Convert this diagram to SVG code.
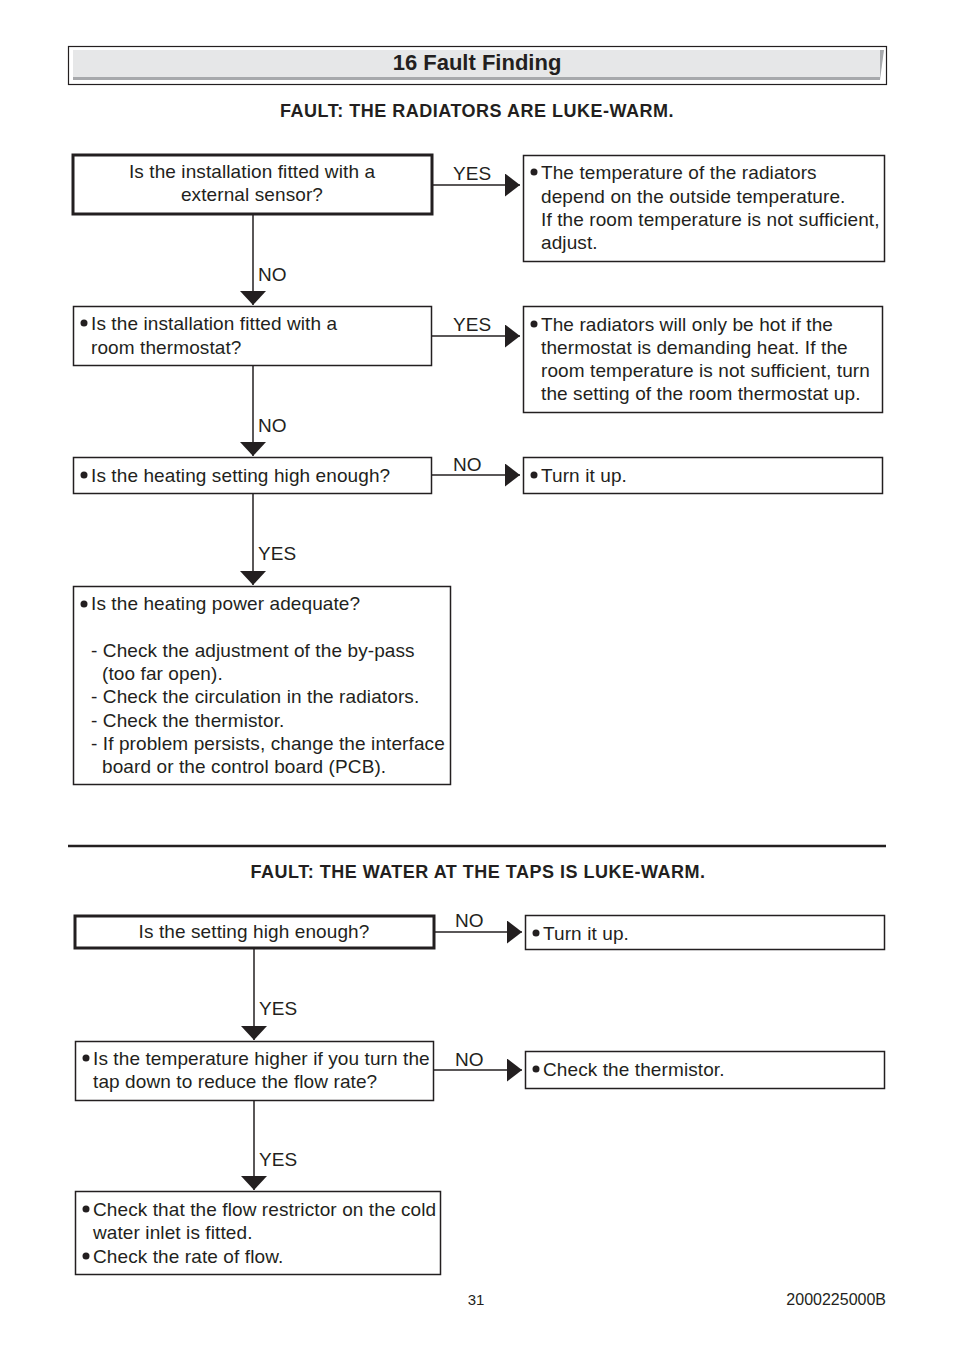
<svg xmlns="http://www.w3.org/2000/svg" width="954" height="1351" viewBox="0 0 954 1351">
<defs>
<marker id="ah" markerUnits="userSpaceOnUse" markerWidth="16" markerHeight="24" refX="15" refY="11.5" orient="auto"><path d="M0,0 L15,11.5 L0,23 z" fill="#231f20"/></marker>
<marker id="av" markerUnits="userSpaceOnUse" markerWidth="15" markerHeight="28" refX="14" refY="13" orient="auto"><path d="M0,0 L14,13 L0,26 z" fill="#231f20"/></marker>
</defs>
<style>
text{font-family:"Liberation Sans",Arial,sans-serif;font-size:19px;letter-spacing:0.1px;fill:#231f20}
.b{font-weight:bold;font-size:18px;letter-spacing:0.5px}
.h{font-weight:bold;font-size:22px;letter-spacing:0}
.f{font-size:15px;letter-spacing:0}
.f2{font-size:16px;letter-spacing:0}
.thick{fill:#fff;stroke:#231f20;stroke-width:3}
.thin{fill:#fff;stroke:#231f20;stroke-width:1.5}
.c{fill:none;stroke:#231f20;stroke-width:1.5}
.m{text-anchor:middle}
</style>
<rect width="954" height="1351" fill="#fff"/>
<g id="header">
<rect x="68.5" y="46.5" width="818" height="38" fill="#fff" stroke="#231f20" stroke-width="1.2"/>
<polygon points="73,50 884,50 880,80 73,80" fill="#a7a9ac"/>
<rect x="73" y="50" width="807" height="27" fill="#e6e7e8"/>
<text x="477" y="70" class="h m">16 Fault Finding</text>
</g>
<text x="477" y="117" class="b m">FAULT: THE RADIATORS ARE LUKE-WARM.</text>
<g id="connectors">
<line x1="433" y1="185" x2="520" y2="185" class="c" marker-end="url(#ah)"/>
<line x1="253" y1="215" x2="253" y2="305" class="c" marker-end="url(#av)"/>
<line x1="432" y1="336" x2="520" y2="336" class="c" marker-end="url(#ah)"/>
<line x1="253" y1="366" x2="253" y2="456" class="c" marker-end="url(#av)"/>
<line x1="432" y1="475" x2="520" y2="475" class="c" marker-end="url(#ah)"/>
<line x1="253" y1="494" x2="253" y2="585" class="c" marker-end="url(#av)"/>
<line x1="435" y1="932" x2="522" y2="932" class="c" marker-end="url(#ah)"/>
<line x1="254" y1="949" x2="254" y2="1040" class="c" marker-end="url(#av)"/>
<line x1="434" y1="1070" x2="522" y2="1070" class="c" marker-end="url(#ah)"/>
<line x1="254" y1="1101" x2="254" y2="1190" class="c" marker-end="url(#av)"/>
<text x="453" y="180">YES</text>
<text x="258" y="281">NO</text>
<text x="453" y="331">YES</text>
<text x="258" y="432">NO</text>
<text x="453" y="471">NO</text>
<text x="258" y="560">YES</text>
<text x="455" y="927">NO</text>
<text x="259" y="1015">YES</text>
<text x="455" y="1066">NO</text>
<text x="259" y="1166">YES</text>
</g>
<g id="q1">
<rect x="73" y="155" width="359" height="59" class="thick"/>
<text x="252" y="178" class="m">Is the installation fitted with a</text>
<text x="252" y="201" class="m">external sensor?</text>
</g>
<g id="a1">
<rect x="523.5" y="155.5" width="361" height="106" class="thin"/>
<circle cx="534" cy="172" r="3.5" fill="#231f20"/>
<text x="541" y="179">The temperature of the radiators</text>
<text x="541" y="203">depend on the outside temperature.</text>
<text x="541" y="226">If the room temperature is not sufficient,</text>
<text x="541" y="249">adjust.</text>
</g>
<g id="q2">
<rect x="73.5" y="306.5" width="358" height="59" class="thin"/>
<circle cx="84" cy="323" r="3.5" fill="#231f20"/>
<text x="91" y="330">Is the installation fitted with a</text>
<text x="91" y="354">room thermostat?</text>
</g>
<g id="a2">
<rect x="523.5" y="306.5" width="359" height="106" class="thin"/>
<circle cx="534" cy="324" r="3.5" fill="#231f20"/>
<text x="541" y="331">The radiators will only be hot if the</text>
<text x="541" y="354">thermostat is demanding heat. If the</text>
<text x="541" y="377">room temperature is not sufficient, turn</text>
<text x="541" y="400">the setting of the room thermostat up.</text>
</g>
<g id="q3">
<rect x="73.5" y="457.5" width="358" height="36" class="thin"/>
<circle cx="84" cy="475" r="3.5" fill="#231f20"/>
<text x="91" y="482">Is the heating setting high enough?</text>
</g>
<g id="a3">
<rect x="523.5" y="457.5" width="359" height="36" class="thin"/>
<circle cx="534" cy="475" r="3.5" fill="#231f20"/>
<text x="541" y="482">Turn it up.</text>
</g>
<g id="q4">
<rect x="73.5" y="586.5" width="377" height="198" class="thin"/>
<circle cx="84" cy="604" r="3.5" fill="#231f20"/>
<text x="91" y="610">Is the heating power adequate?</text>
<text x="91" y="657">- Check the adjustment of the by-pass</text>
<text x="102" y="680">(too far open).</text>
<text x="91" y="703">- Check the circulation in the radiators.</text>
<text x="91" y="727">- Check the thermistor.</text>
<text x="91" y="750">- If problem persists, change the interface</text>
<text x="102" y="773">board or the control board (PCB).</text>
</g>
<line x1="68" y1="846" x2="886" y2="846" stroke="#231f20" stroke-width="2.5"/>
<text x="478" y="878" class="b m">FAULT: THE WATER AT THE TAPS IS LUKE-WARM.</text>
<g id="q5">
<rect x="75" y="916" width="359" height="32" class="thick"/>
<text x="254" y="938" class="m">Is the setting high enough?</text>
</g>
<g id="a5">
<rect x="525.5" y="915.5" width="359" height="34" class="thin"/>
<circle cx="536" cy="933" r="3.5" fill="#231f20"/>
<text x="543" y="940">Turn it up.</text>
</g>
<g id="q6">
<rect x="75.5" y="1041.5" width="358" height="59" class="thin"/>
<circle cx="86" cy="1058" r="3.5" fill="#231f20"/>
<text x="93" y="1065">Is the temperature higher if you turn the</text>
<text x="93" y="1088">tap down to reduce the flow rate?</text>
</g>
<g id="a6">
<rect x="525.5" y="1051.5" width="359" height="37" class="thin"/>
<circle cx="536" cy="1069" r="3.5" fill="#231f20"/>
<text x="543" y="1076">Check the thermistor.</text>
</g>
<g id="q7">
<rect x="75.5" y="1191.5" width="365" height="83" class="thin"/>
<circle cx="86" cy="1209" r="3.5" fill="#231f20"/>
<text x="93" y="1216">Check that the flow restrictor on the cold</text>
<text x="93" y="1239">water inlet is fitted.</text>
<circle cx="86" cy="1256" r="3.5" fill="#231f20"/>
<text x="93" y="1263">Check the rate of flow.</text>
</g>
<text x="476" y="1305" class="f m">31</text>
<text x="886" y="1305" class="f2" text-anchor="end">2000225000B</text>
</svg>
